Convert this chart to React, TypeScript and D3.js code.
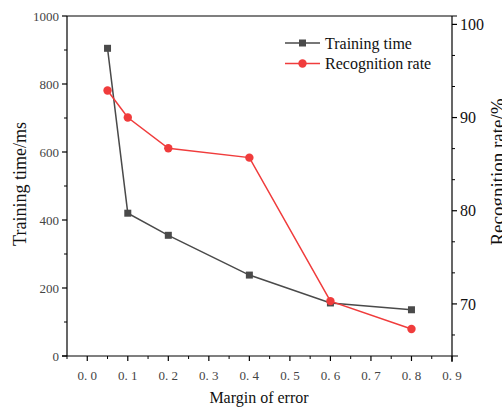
import React from "react";
import * as d3 from "d3";

const margins = [0.05, 0.1, 0.2, 0.4, 0.6, 0.8];
const trainingTime = [905, 420, 355, 238, 156, 136];
const recognitionRate = [92.9, 90.0, 86.7, 85.7, 70.3, 67.3];
const xTicks = [0, 0.1, 0.2, 0.3, 0.4, 0.5, 0.6, 0.7, 0.8, 0.9];
const xMinorTicks = [-0.05, 0.05, 0.15, 0.25, 0.35, 0.45, 0.55, 0.65, 0.75, 0.85];
const leftTicks = [0, 200, 400, 600, 800, 1000];
const leftMinorTicks = [100, 300, 500, 700, 900];
const rightTicks = [70, 80, 90, 100];
const rightMinorTicks = [66.667, 73.333, 76.667, 83.333, 86.667, 93.333, 96.667];
const seriesNames = ["Training time", "Recognition rate"];

const W = 502;
const H = 408;
const L = 67;
const R = 452;
const T = 16;
const B = 356;

const FONT = "'Liberation Serif', 'Times New Roman', serif";
const BLACK = "#4a4a4a";
const RED = "#f03c3c";

export default function App() {
  const x = d3.scaleLinear().domain([-0.05, 0.9]).range([L, R]);
  const yL = d3.scaleLinear().domain([0, 1000]).range([B, T]);
  const yR = d3.scaleLinear().domain([64.41, 100.9]).range([B, T]);

  const ttData = margins.map((m, i) => [m, trainingTime[i]] as [number, number]);
  const rrData = margins.map((m, i) => [m, recognitionRate[i]] as [number, number]);

  const ttLine = d3.line<[number, number]>().x((d) => x(d[0])).y((d) => yL(d[1]))(ttData) || "";
  const rrLine = d3.line<[number, number]>().x((d) => x(d[0])).y((d) => yR(d[1]))(rrData) || "";

  const fmtX = (v: number) => d3.format(".1f")(v).replace(".", ". ");

  return (
    <svg width={W} height={H} style={{ position: "absolute", left: 0, top: 0, background: "#fff" }}>
      <rect x={0} y={0} width={W} height={H} fill="#fff" />
      {/* frame */}
      <line x1={L - 5} x2={R + 6} y1={B} y2={B} stroke="#000" strokeWidth={1.2} />
      <line x1={L} x2={R + 5} y1={T} y2={T} stroke="#000" strokeWidth={1.2} />
      <line x1={L} x2={L} y1={T} y2={B} stroke="#000" strokeWidth={1.2} />
      <line x1={R} x2={R} y1={T} y2={B + 6} stroke="#000" strokeWidth={1.2} />

      {/* x ticks */}
      {xTicks.map((t) => (
        <g key={"xt" + t}>
          <line x1={x(t)} x2={x(t)} y1={B} y2={B + 5} stroke="#000" strokeWidth={1.2} />
          <text x={x(t)} y={B + 24} textAnchor="middle" fontFamily={FONT} fontSize={13} fill="#444">
            {fmtX(t)}
          </text>
        </g>
      ))}
      {xMinorTicks.map((t) => (
        <line key={"xm" + t} x1={x(t)} x2={x(t)} y1={B} y2={B + 3} stroke="#000" strokeWidth={1} />
      ))}

      {/* left ticks */}
      {leftTicks.map((t) => (
        <g key={"lt" + t}>
          <line x1={L - 5} x2={L} y1={yL(t)} y2={yL(t)} stroke="#000" strokeWidth={1.2} />
          <text x={L - 8} y={yL(t)} dy="0.35em" textAnchor="end" fontFamily={FONT} fontSize={13} fill="#444">
            {t}
          </text>
        </g>
      ))}
      {leftMinorTicks.map((t) => (
        <line key={"lm" + t} x1={L - 3} x2={L} y1={yL(t)} y2={yL(t)} stroke="#000" strokeWidth={1} />
      ))}

      {/* right ticks */}
      {rightTicks.map((t) => (
        <g key={"rt" + t}>
          <line x1={R} x2={R + 5} y1={yR(t)} y2={yR(t)} stroke="#000" strokeWidth={1.2} />
          <text x={R + 8} y={yR(t)} dy="0.35em" textAnchor="start" fontFamily={FONT} fontSize={16} fill="#111">
            {t}
          </text>
        </g>
      ))}
      {rightMinorTicks.map((t) => (
        <line key={"rm" + t} x1={R} x2={R + 3} y1={yR(t)} y2={yR(t)} stroke="#000" strokeWidth={1} />
      ))}

      {/* axis titles */}
      <text x={259} y={403} textAnchor="middle" fontFamily={FONT} fontSize={16} fill="#111">
        Margin of error
      </text>
      <text transform={`translate(26,184) rotate(-90)`} textAnchor="middle" fontFamily={FONT} fontSize={18} fill="#111">
        Training time/ms
      </text>
      <text transform={`translate(504,172) rotate(-90)`} textAnchor="middle" fontFamily={FONT} fontSize={19} fill="#111">
        Recognition rate/%
      </text>

      {/* series */}
      <path d={ttLine} fill="none" stroke={BLACK} strokeWidth={1.5} />
      {ttData.map((d, i) => (
        <rect key={"ts" + i} x={x(d[0]) - 3.5} y={yL(d[1]) - 3.5} width={7} height={7} fill={BLACK} />
      ))}
      <path d={rrLine} fill="none" stroke={RED} strokeWidth={1.5} />
      {rrData.map((d, i) => (
        <circle key={"rc" + i} cx={x(d[0])} cy={yR(d[1])} r={4.2} fill={RED} />
      ))}

      {/* legend */}
      <g>
        <line x1={285} x2={320} y1={43} y2={43} stroke={BLACK} strokeWidth={1.5} />
        <rect x={302.5 - 3.5} y={43 - 3.5} width={7} height={7} fill={BLACK} />
        <text x={325} y={48.5} fontFamily={FONT} fontSize={16} fill="#111">
          {seriesNames[0]}
        </text>
        <line x1={285} x2={320} y1={63.5} y2={63.5} stroke={RED} strokeWidth={1.5} />
        <circle cx={302.5} cy={63.5} r={4.2} fill={RED} />
        <text x={325} y={69} fontFamily={FONT} fontSize={16} fill="#111">
          {seriesNames[1]}
        </text>
      </g>
    </svg>
  );
}
